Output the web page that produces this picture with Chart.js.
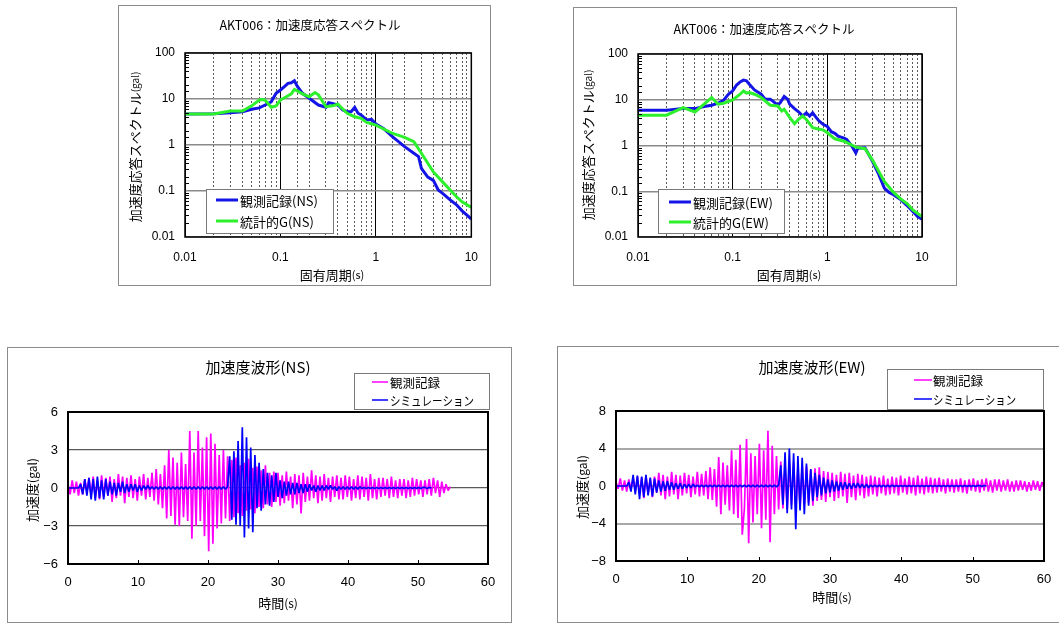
<!DOCTYPE html>
<html>
<head>
<meta charset="utf-8">
<script src="https://cdn.jsdelivr.net/npm/chart.js@4.4.1/dist/chart.umd.min.js"></script>
<style>
  body { margin: 0; background: #fff; width: 1059px; height: 624px; overflow: hidden; position: relative; }
  canvas { position: absolute; }
</style>
</head>
<body>
<canvas id="specNS" width="373" height="281" style="left:118px;top:5px"></canvas>
<canvas id="specEW" width="384" height="279" style="left:573px;top:7px"></canvas>
<canvas id="waveNS" width="505" height="276" style="left:7px;top:347px"></canvas>
<canvas id="waveEW" width="510" height="277" style="left:557px;top:346px"></canvas>
<script>
// ---- response spectra (period s, acceleration gal) ----
const nsObsT = [0.01,0.02,0.03,0.04,0.05,0.06,0.07,0.08,0.09,0.1,0.11,0.12,0.13,0.14,0.15,0.17,0.2,0.25,0.3,0.32,0.35,0.4,0.45,0.5,0.55,0.6,0.65,0.7,0.8,0.9,1,1.2,1.5,2,2.5,2.8,3,3.5,4,4.5,5,6,7,8,9,10];
const nsObsA = [4.7,4.8,5.0,5.3,6.0,6.4,7.5,8.7,13.3,15.7,18.6,21.9,22.6,25,19,13.3,10.4,7.4,6.6,8.3,8,7.4,5.8,5.3,5.3,6.6,4.9,4.5,3.5,3.6,2.86,2.3,1.5,0.92,0.66,0.56,0.31,0.2,0.17,0.105,0.089,0.064,0.05,0.037,0.03,0.0246];
const nsSimT = [0.01,0.02,0.03,0.04,0.05,0.06,0.065,0.07,0.08,0.09,0.1,0.12,0.13,0.14,0.15,0.17,0.2,0.23,0.25,0.3,0.35,0.4,0.5,0.6,0.7,0.8,1,1.5,2,2.5,3,3.5,4,5,6,7,8,10];
const nsSimA = [4.7,4.7,5.5,5.5,7.1,9.5,9.8,9.2,6.6,7.1,9.5,11.8,12.9,16.2,15,12.9,11.2,13.8,12.3,6.8,7.1,7.7,4.9,4.1,3.8,3.1,2.7,1.78,1.47,1.18,0.66,0.4,0.26,0.158,0.105,0.075,0.058,0.044];
const ewObsT = [0.01,0.02,0.03,0.04,0.05,0.06,0.07,0.08,0.09,0.1,0.11,0.12,0.13,0.14,0.15,0.17,0.2,0.22,0.25,0.3,0.32,0.35,0.38,0.4,0.45,0.5,0.55,0.6,0.65,0.7,0.8,0.9,1,1.1,1.2,1.3,1.5,1.6,1.8,2,2.1,2.5,3,3.5,4,4.5,5,6,7,8,9,10];
const ewObsA = [5.9,5.9,6.4,6.4,7.1,7.6,8.4,9.7,13.2,15.6,21,24.6,26.9,26,21.9,16.4,13.2,10.3,10.3,7.6,8.8,11.8,10.3,8,6.4,5.4,4.4,5.2,4.4,5.2,3.6,2.9,2.6,2.0,1.85,1.6,1.45,1.35,1.0,0.69,0.87,0.89,0.45,0.23,0.117,0.094,0.084,0.065,0.048,0.036,0.028,0.0245];
const ewSimT = [0.01,0.02,0.03,0.04,0.05,0.06,0.07,0.08,0.1,0.12,0.13,0.14,0.15,0.17,0.2,0.25,0.3,0.33,0.35,0.4,0.45,0.5,0.55,0.6,0.7,0.8,0.9,1,1.2,1.5,2,2.5,3,4,5,6,7,8,10];
const ewSimA = [4.6,4.6,6.7,5.4,8.0,11.2,8.0,8.4,9.9,13.2,15.6,14,14.4,13.2,11.2,7.6,7.3,5.7,6.2,4.1,3.0,3.8,4.4,3.7,2.45,2.3,2.2,1.9,1.4,1.24,0.92,0.85,0.48,0.164,0.094,0.067,0.053,0.039,0.028];

// ---- waveforms, sampled every DT seconds from t = 0 (gal) ----
const DT = 0.3;
const nsObsWave = [
  0.3,-0.5,0.6,-0.4,0.5,-0.6,0.4,-0.5,0.7,-0.3,
  0.8,-0.6,0.9,-0.8,0.6,-0.9,1.0,-0.7,0.8,-0.6,
  0.9,-1.1,0.7,-0.8,1.1,-0.6,0.9,-1.2,0.8,-0.7,
  1.0,-0.8,0.7,-1.0,0.9,-0.6,1.1,-0.9,0.8,-0.7,
  1.2,-1.0,1.5,-1.3,1.1,-1.6,1.8,-2.4,3.0,-2.2,
  2.4,-2.9,2.0,-3.0,2.8,-2.3,1.9,-2.6,4.5,-4.0,
  2.8,-3.0,4.5,-2.6,3.2,-3.8,4.0,-5.0,4.3,-4.4,
  3.5,-3.2,2.6,-2.8,3.0,-2.4,2.5,-2.6,2.2,-2.3,
  2.4,-2.0,1.8,-2.2,2.0,-1.8,2.3,-1.7,1.6,-2.0,
  1.7,-1.5,1.4,-1.6,1.8,-1.3,1.2,-1.5,1.3,-1.1,
  1.2,-1.4,1.0,-1.2,1.3,-1.0,0.9,-1.6,1.1,-1.3,
  1.0,-2.0,1.2,-1.1,0.9,-1.0,1.4,-0.8,1.0,-1.2,
  0.9,-1.0,1.1,-0.8,0.8,-1.1,0.9,-0.7,1.0,-0.9,
  0.8,-0.9,1.0,-0.7,0.9,-1.0,0.7,-0.8,1.0,-0.9,
  0.9,-0.7,0.8,-1.0,1.1,-0.8,0.7,-0.9,0.8,-0.7,
  0.8,-0.6,0.7,-0.8,0.9,-0.7,0.6,-0.8,0.7,-0.6,
  0.7,-0.8,0.6,-0.7,0.8,-0.6,0.7,-0.5,0.6,-0.7,
  0.6,-0.5,0.7,-0.6,0.8,-0.4,0.6,-0.7,0.5,-0.4,
  0.3,-0.2,0.1
];
const nsSimWave = [
  0,0,0,0,0,0,0.3,-0.5,0.7,-0.6,
  0.8,-0.9,0.7,-1.0,0.9,-0.8,0.6,-0.9,0.7,-0.6,
  0.5,-0.5,0.4,-0.6,0.4,-0.3,0.5,-0.4,0.3,-0.3,
  0.3,-0.2,0.3,-0.3,0.2,-0.2,0.2,-0.1,0.2,-0.1,
  0.1,-0.1,0.1,-0.1,0.1,-0.1,0.1,-0.1,0.1,-0.1,
  0.1,-0.1,0.1,-0.1,0.1,-0.1,0.1,-0.1,0.1,-0.1,
  0.1,-0.1,0.1,-0.1,0.1,-0.1,0.1,-0.1,0.1,-0.1,
  0.1,-0.1,0.1,-0.1,0.1,-0.1,0.1,2.5,-2.5,2.9,
  -2.9,3.7,-3.0,4.8,-3.9,4.0,-3.2,3.2,-3.5,2.6,
  -1.6,2.0,-1.8,1.5,-1.3,1.2,-1.4,1.0,-1.1,1.2,
  -0.7,0.6,-0.8,0.5,-0.6,0.5,-0.5,0.4,-0.5,0.4,
  -0.4,0.3,-0.4,0.3,-0.3,0.3,-0.2,0.2,-0.3,0.2,
  -0.2,0.2,-0.2,0.2,-0.1,0.2,-0.1,0.1,-0.2,0.1,
  -0.1,0.1,-0.1,0.1,-0.1,0.1,-0.1,0.1,-0.1,0.1,
  -0.05,0.05,-0.05,0.05,-0.05,0.05,-0.05,0.05,-0.05,0.05,
  -0.05,0.05,-0.05,0.05,-0.05,0.05,-0.05,0.05,-0.05,0.05,
  -0.05,0.05,-0.05,0.05,-0.05,0.05,-0.05,0.05,-0.05,0.05,
  0.05,-0.05,0.05,0
];
const ewObsWave = [
  0.4,-0.3,0.8,-0.5,0.6,-0.6,0.7,-0.4,0.9,-0.6,
  1.0,-0.8,0.9,-1.3,1.1,-0.9,0.8,-1.2,1.0,-0.7,
  1.4,-1.0,1.2,-1.4,1.0,-1.1,1.5,-0.9,1.2,-1.4,
  1.1,-1.0,1.4,-0.8,1.2,-1.2,1.0,-0.9,1.5,-1.1,
  1.3,-1.0,1.6,-1.4,2.0,-1.5,1.8,-2.2,3.1,-3.0,
  2.5,-2.0,2.2,-2.6,3.8,-3.0,2.8,-3.4,4.4,-5.2,
  -2.4,5.0,-6.1,3.5,-3.9,3.2,-3.0,4.5,-4.5,3.8,
  -3.6,5.9,-6.0,4.3,-3.0,3.2,-2.5,2.6,-2.4,2.2,
  -2.5,2.4,-2.0,2.5,-2.3,2.0,-2.4,2.2,-1.9,2.1,
  -1.8,1.7,-2.1,1.9,-1.6,2.0,-1.5,1.6,-1.7,1.5,
  -1.2,1.4,-1.6,1.2,-1.3,1.5,-1.1,1.3,-1.8,1.4,
  -1.2,1.1,-1.5,1.3,-1.0,1.2,-1.3,1.0,-1.1,1.1,
  -0.9,1.0,-1.1,0.9,-0.8,1.1,-1.0,0.8,-0.9,1.0,
  -0.8,0.9,-1.0,1.1,-0.7,0.8,-0.9,1.0,-0.8,0.9,
  -1.0,1.1,-0.8,0.8,-0.9,1.0,-0.7,0.9,-0.8,0.8,
  -0.7,0.9,-0.6,0.7,-0.8,0.8,-0.6,0.7,-0.7,0.7,
  -0.6,0.8,-0.7,0.6,-0.8,0.7,-0.5,0.8,-0.6,0.6,
  -0.7,0.7,-0.5,0.8,-0.6,0.6,-0.7,0.7,-0.5,0.7,
  -0.6,0.6,-0.5,0.7,-0.6,0.5,-0.6,0.6,-0.5,0.6,
  -0.4,0.5,-0.6,0.4,-0.5,0.6,-0.4,0.5,-0.5,0.4,
  0.0
];
const ewSimWave = [
  0,0,0,0,0,0,0.4,-0.6,1.2,-0.9,
  1.1,-1.4,1.0,-1.2,1.2,-1.0,0.9,-1.1,0.8,-0.7,
  0.6,-0.6,0.5,-0.5,0.5,-0.4,0.4,-0.4,0.3,-0.3,
  0.3,-0.3,0.2,-0.2,0.2,-0.2,0.2,-0.1,0.1,-0.1,
  0.1,-0.1,0.1,-0.1,0.1,-0.1,0.1,-0.1,0.1,-0.1,
  0.1,-0.1,0.1,-0.1,0.1,-0.1,0.1,-0.1,0.1,-0.1,
  0.1,-0.1,0.1,-0.1,0.1,-0.1,0.1,-0.1,0.1,-0.1,
  0.1,-0.1,0.1,-0.1,0.1,-0.1,0.1,2.2,-2.0,3.6,
  -2.9,4.0,-2.5,3.5,-4.6,3.2,-2.6,3.0,-3.0,2.4,
  -2.1,1.8,-1.6,1.4,-1.2,1.2,-1.0,0.9,-0.8,0.7,
  -0.7,0.6,-0.6,0.5,-0.5,0.4,-0.4,0.4,-0.3,0.3,
  -0.3,0.3,-0.2,0.3,-0.2,0.2,-0.2,0.2,-0.2,0.1,
  -0.1,0.1,-0.1,0.1,-0.1,0.1,-0.1,0.1,-0.1,0.1,
  -0.05,0.05,-0.05,0.05,-0.05,0.05,-0.05,0.05,-0.05,0.05,
  -0.05,0.05,-0.05,0.05,-0.05,0.05,-0.05,0.05,-0.05,0.05,
  -0.05,0.05,-0.05,0.05,-0.05,0.05,-0.05,0.05,-0.05,0.05,
  -0.05,0.05,-0.05,0.05,-0.05,0.05,-0.05,0.05,-0.05,0.05,
  0.05,-0.05,0.05,0
];

const JP = '"Noto Sans CJK JP", "Noto Sans", sans-serif';
const NUM = '"Liberation Sans", Arial, sans-serif';
const BLUE = '#1414e6';
const GREEN = '#2cf02c';

function isDecade(v) {
  const l = Math.log10(v);
  return Math.abs(l - Math.round(l)) < 1e-6;
}

function drawParts(c, parts, x, y, rotate) {
  c.save();
  c.translate(x, y);
  if (rotate) c.rotate(-Math.PI / 2);
  let w = 0;
  parts.forEach(p => { c.font = p[1] + 'px ' + JP; w += c.measureText(p[0]).width; });
  let cx = -w / 2;
  c.fillStyle = '#000';
  c.textBaseline = 'middle';
  c.textAlign = 'left';
  parts.forEach(p => {
    c.font = p[1] + 'px ' + JP;
    c.fillText(p[0], cx, 0);
    cx += c.measureText(p[0]).width;
  });
  c.restore();
}

// titles, frame, inner ticks and the boxed legend
const decoPlugin = {
  id: 'deco',
  beforeDraw(chart) {
    const c = chart.ctx;
    c.save();
    c.fillStyle = '#fff';
    c.fillRect(0, 0, chart.width, chart.height);
    c.strokeStyle = '#8c8c8c';
    c.lineWidth = 1;
    c.strokeRect(0.5, 0.5, chart.width - 1, chart.height - 1);
    c.restore();
  },
  afterDatasetsDraw(chart, args, o) {
    const c = chart.ctx, a = chart.chartArea;
    c.save();
    c.strokeStyle = '#000';
    c.lineWidth = 1;
    if (o.innerX) {
      chart.scales.x.ticks.forEach(t => {
        const px = Math.round(chart.scales.x.getPixelForValue(t.value)) + 0.5;
        c.beginPath(); c.moveTo(px, a.bottom); c.lineTo(px, a.bottom - o.innerX); c.stroke();
      });
    }
    if (o.innerY) {
      chart.scales.y.ticks.forEach(t => {
        if (isDecade(t.value)) return;
        const py = Math.round(chart.scales.y.getPixelForValue(t.value)) + 0.5;
        c.beginPath(); c.moveTo(a.left, py); c.lineTo(a.left + o.innerY, py); c.stroke();
      });
    }
    c.lineWidth = o.frame;
    c.strokeRect(a.left, a.top, a.right - a.left, a.bottom - a.top);

    const L = o.legend;
    c.fillStyle = '#fff';
    c.fillRect(L.box[0], L.box[1], L.box[2], L.box[3]);
    c.strokeStyle = '#7a7a7a';
    c.lineWidth = 1;
    c.strokeRect(L.box[0] + 0.5, L.box[1] + 0.5, L.box[2], L.box[3]);
    chart.data.datasets.forEach((ds, i) => {
      const y = L.ys[i];
      c.strokeStyle = ds.borderColor;
      c.lineWidth = L.lw;
      c.beginPath(); c.moveTo(L.x1, y); c.lineTo(L.x2, y); c.stroke();
      c.fillStyle = '#000';
      c.font = L.size + 'px ' + JP;
      c.textBaseline = 'middle';
      c.textAlign = 'left';
      c.fillText(ds.label, L.tx, y + 1, L.maxW[i]);
    });
    c.restore();
  },
  afterDraw(chart, args, o) {
    const c = chart.ctx;
    drawParts(c, [[o.title.text, o.title.size]], o.title.x, o.title.y, false);
    drawParts(c, o.xTitle.parts, o.xTitle.x, o.xTitle.y, false);
    drawParts(c, o.yTitle.parts, o.yTitle.x, o.yTitle.y, true);
  }
};

function spectrumChart(id, obsT, obsA, simT, simA, names, fit, deco) {
  return new Chart(document.getElementById(id), {
    type: 'line',
    data: {
      datasets: [
        { label: names[0], data: obsT.map((t, i) => ({ x: t, y: obsA[i] })),
          borderColor: BLUE, borderWidth: 3, pointRadius: 0, order: 1 },
        { label: names[1], data: simT.map((t, i) => ({ x: t, y: simA[i] })),
          borderColor: GREEN, borderWidth: 3, pointRadius: 0, order: 0 }
      ]
    },
    options: {
      responsive: false,
      animation: false,
      layout: { padding: { left: 0, top: fit.t, right: fit.r, bottom: 0 } },
      plugins: { legend: { display: false }, tooltip: { enabled: false }, deco: deco },
      scales: {
        x: {
          type: 'logarithmic', min: 0.01, max: 10,
          afterFit: s => { s.height = fit.b; },
          ticks: {
            autoSkip: false, maxRotation: 0, padding: 13, color: '#000',
            font: { family: NUM, size: 12 },
            callback: v => isDecade(v) ? String(+v.toPrecision(1)) : ''
          },
          grid: {
            drawTicks: false,
            color: ctx => isDecade(ctx.tick.value) ? '#000' : '#5a5a5a',
            lineWidth: 1
          },
          border: { display: false, dash: ctx => (ctx.tick && !isDecade(ctx.tick.value)) ? [2, 2] : [] }
        },
        y: {
          type: 'logarithmic', min: 0.01, max: 100,
          afterFit: s => { s.width = fit.l; },
          ticks: {
            autoSkip: false, padding: 10, color: '#000',
            font: { family: NUM, size: 12 },
            callback: v => isDecade(v) ? String(+v.toPrecision(1)) : ''
          },
          grid: {
            drawTicks: false,
            color: ctx => isDecade(ctx.tick.value) ? '#8a8a8a' : 'rgba(0,0,0,0)',
            lineWidth: 1.5
          },
          border: { display: false }
        }
      }
    },
    plugins: [decoPlugin]
  });
}

function waveChart(id, obs, sim, yMax, yStep, gridColor, gridWidth, fit, deco) {
  const pts = arr => arr.map((v, i) => ({ x: i * DT, y: v }));
  return new Chart(document.getElementById(id), {
    type: 'line',
    data: {
      datasets: [
        { label: '観測記録', data: pts(obs), borderColor: '#ff00ff', borderWidth: 1.7,
          borderJoinStyle: 'bevel', pointRadius: 0, order: 1 },
        { label: 'シミュレーション', data: pts(sim), borderColor: '#0000ff', borderWidth: 1.7,
          borderJoinStyle: 'bevel', pointRadius: 0, order: 0 }
      ]
    },
    options: {
      responsive: false,
      animation: false,
      layout: { padding: { left: 0, top: fit.t, right: fit.r, bottom: 0 } },
      plugins: { legend: { display: false }, tooltip: { enabled: false }, deco: deco },
      scales: {
        x: {
          type: 'linear', min: 0, max: 60,
          afterFit: s => { s.height = fit.b; },
          ticks: { stepSize: 10, maxRotation: 0, padding: 11, color: '#000',
                   font: { family: NUM, size: 13 } },
          grid: { display: false, drawTicks: false },
          border: { display: false }
        },
        y: {
          type: 'linear', min: -yMax, max: yMax,
          afterFit: s => { s.width = fit.l; },
          ticks: { stepSize: yStep, padding: 10, color: '#000',
                   font: { family: NUM, size: 13 },
                   callback: v => String(v).replace('-', '\u2212') },
          grid: { drawTicks: false, color: gridColor, lineWidth: gridWidth },
          border: { display: false }
        }
      }
    },
    plugins: [decoPlugin]
  });
}

spectrumChart('specNS', nsObsT, nsObsA, nsSimT, nsSimA, ['観測記録(NS)', '統計的G(NS)'],
  { l: 67, r: 19, t: 48, b: 49 },
  {
    frame: 1.5, innerY: 4,
    title: { text: 'AKT006：加速度応答スペクトル', size: 12.5, x: 192, y: 20 },
    xTitle: { parts: [['固有周期', 13], ['(s)', 11]], x: 214, y: 270 },
    yTitle: { parts: [['加速度応答スペクトル', 13], ['(gal)', 10]], x: 17, y: 142 },
    legend: { box: [88, 184, 127, 44], x1: 98, x2: 120, tx: 122, ys: [195, 216], lw: 3, size: 13, maxW: [78, 78] }
  });

spectrumChart('specEW', ewObsT, ewObsA, ewSimT, ewSimA, ['観測記録(EW)', '統計的G(EW)'],
  { l: 65, r: 35, t: 47, b: 49 },
  {
    frame: 1.5, innerY: 4,
    title: { text: 'AKT006：加速度応答スペクトル', size: 12.5, x: 191, y: 22 },
    xTitle: { parts: [['固有周期', 13], ['(s)', 11]], x: 216, y: 268 },
    yTitle: { parts: [['加速度応答スペクトル', 13], ['(gal)', 10]], x: 15, y: 138 },
    legend: { box: [85, 182, 126, 44], x1: 96, x2: 118, tx: 120, ys: [195, 215], lw: 3, size: 13, maxW: [80, 80] }
  });

waveChart('waveNS', nsObsWave, nsSimWave, 6, 3, '#5a5a5a', 1.2,
  { l: 61, r: 24, t: 65, b: 59 },
  {
    frame: 2, innerX: 4,
    title: { text: '加速度波形(NS)', size: 15, x: 251, y: 20 },
    xTitle: { parts: [['時間', 13], ['(s)', 12]], x: 271, y: 256 },
    yTitle: { parts: [['加速度', 13], ['(gal)', 12]], x: 25, y: 143 },
    legend: { box: [347, 26, 135, 36], x1: 365, x2: 381, tx: 383, ys: [35, 53], lw: 1.5, size: 12.5, maxW: [52, 84] }
  });

waveChart('waveEW', ewObsWave, ewSimWave, 8, 4, '#a8a8a8', 2,
  { l: 59, r: 23, t: 65, b: 62 },
  {
    frame: 2, innerX: 4,
    title: { text: '加速度波形(EW)', size: 15, x: 255, y: 21 },
    xTitle: { parts: [['時間', 13], ['(s)', 12]], x: 275, y: 251 },
    yTitle: { parts: [['加速度', 13], ['(gal)', 12]], x: 25, y: 141 },
    legend: { box: [330, 23, 156, 40], x1: 357, x2: 375, tx: 376, ys: [34, 53], lw: 1.5, size: 12.5, maxW: [51, 83] }
  });
</script>
</body>
</html>
